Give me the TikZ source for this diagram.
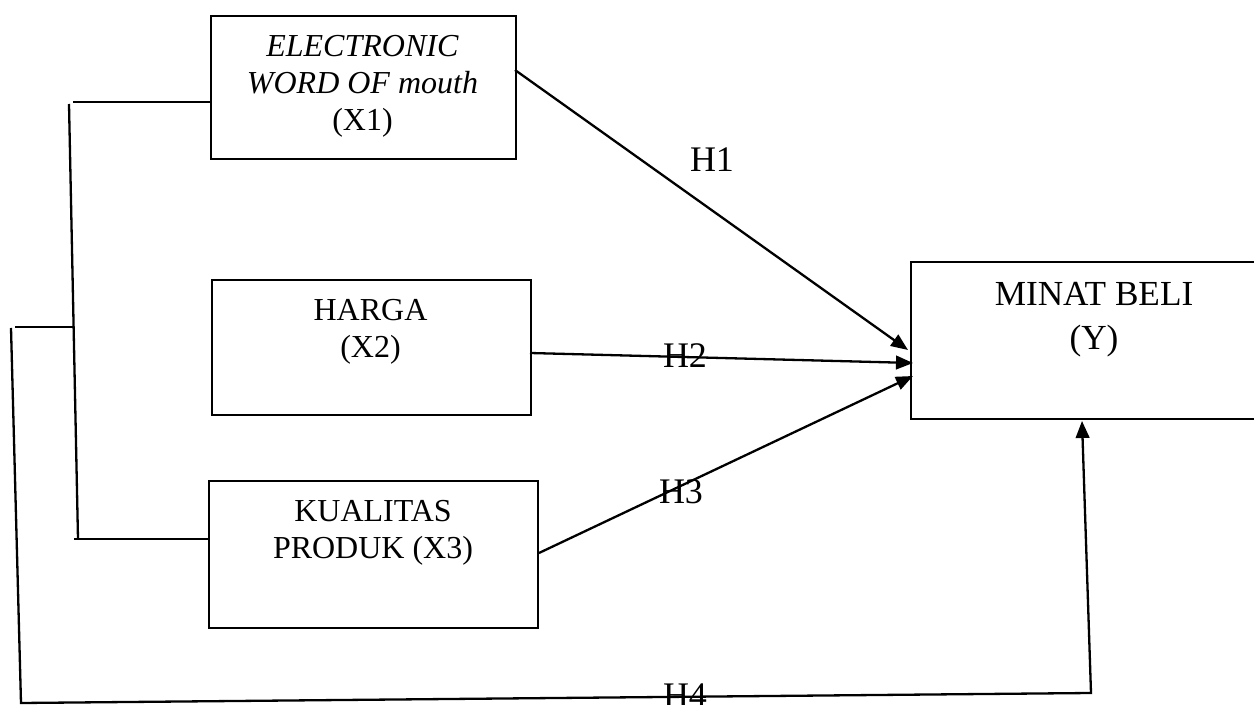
\documentclass[tikz,border=0pt]{standalone}
\usepackage{fontspec}
\setmainfont{Liberation Serif}
\usetikzlibrary{arrows.meta}
\begin{document}
\begin{tikzpicture}[x=0.5pt,y=-0.5pt,
  box/.style={draw, line width=0.9pt, inner sep=0pt, anchor=north west},
  txt/.style={align=center, inner sep=0pt, anchor=north, font=\fontsize{16}{18.5}\selectfont},
  conn/.style={line width=1.15pt},
  arr/.style={conn, -{Triangle[length=8.5pt,width=6.8pt]}},
  hlab/.style={inner sep=0pt, anchor=base, font=\fontsize{18}{20}\selectfont}]
\useasboundingbox (0,0) rectangle (1254,705);

% boxes
\node[box, minimum width=152.5pt, minimum height=71.5pt] (x1) at (210,15) {};
\node[box, minimum width=159.5pt, minimum height=67.5pt] (x2) at (211,279) {};
\node[box, minimum width=164.5pt, minimum height=73.5pt] (x3) at (208,480) {};
\node[box, minimum width=174pt, minimum height=78.5pt] (y) at (910,261) {};

% texts
\node[txt] (x1t) at (362.5,35) {\textit{ELECTRONIC}\\\textit{WORD OF mouth}\\(X1)};
\node[txt] (x2t) at (370.5,299) {HARGA\\(X2)};
\node[txt] (x3t) at (373,500) {KUALITAS\\PRODUK (X3)};
\node[txt, font=\fontsize{17.6}{22}\selectfont] (yt) at (1094,282) {MINAT BELI\\(Y)};

% connector coordinates
\coordinate (h1s) at (515,70);
\coordinate (h1e) at (908,350);
\coordinate (h2s) at (530,353);
\coordinate (h2e) at (913,363);
\coordinate (h3s) at (539,553);
\coordinate (h3e) at (913,376);
\coordinate (t1) at (73,102);
\coordinate (t1b) at (210,102);
\coordinate (v1) at (69,104);
\coordinate (v2) at (78,539);
\coordinate (b1) at (74,539);
\coordinate (b1b) at (209,539);
\coordinate (m1) at (15,327);
\coordinate (m2) at (73,327);
\coordinate (o1) at (11,328);
\coordinate (o2) at (21,703);
\coordinate (o3) at (1091,693);
\coordinate (o4) at (1082,421);

% arrows
\draw[arr] (h1s) -- (h1e);
\draw[arr] (h2s) -- (h2e);
\draw[arr] (h3s) -- (h3e);

% left bracket lines
\draw[conn] (t1) -- (t1b);
\draw[conn] (v1) -- (v2);
\draw[conn] (b1) -- (b1b);
\draw[conn] (m1) -- (m2);
\draw[arr] (o1) -- (o2) -- (o3) -- (o4);

% labels
\node[hlab] (lh1) at (712,172) {H1};
\node[hlab] (lh2) at (685,368) {H2};
\node[hlab] (lh3) at (681,504) {H3};
\node[hlab] (lh4) at (685,707) {H4};
\end{tikzpicture}
\end{document}
